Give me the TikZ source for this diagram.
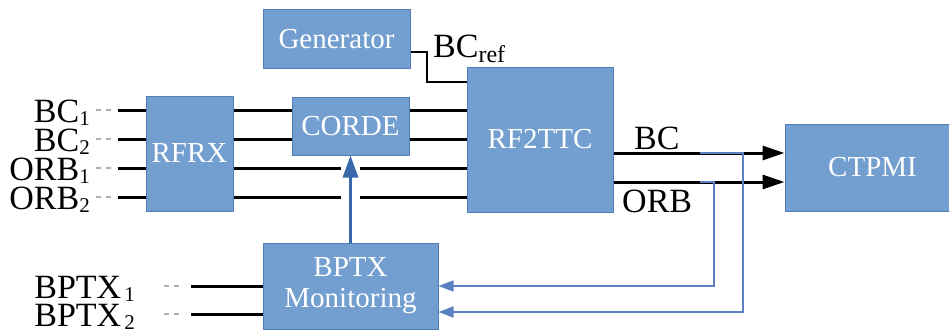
\documentclass[tikz,border=0pt]{standalone}
\usepackage{fontspec}
\setmainfont{Liberation Serif}
\usetikzlibrary{arrows.meta,calc}
\definecolor{boxfill}{RGB}{114,159,207}
\definecolor{boxedge}{RGB}{80,125,185}
\definecolor{arrowblue}{RGB}{55,105,170}
\definecolor{fbblue}{RGB}{90,130,195}
\definecolor{dashgray}{RGB}{175,175,175}
\newcommand\sbs[1]{\raisebox{-3pt}{\fontsize{21}{21}\selectfont #1}}
\begin{document}
\begin{tikzpicture}[x=1pt,y=-1pt,
  blk/.style={draw=boxedge, line width=1pt, fill=boxfill, text=white, inner sep=0pt,
    font=\fontsize{29}{31}\selectfont, align=center},
  sig/.style={line width=3pt, black},
  lbl/.style={font=\fontsize{34}{36}\selectfont, inner sep=0pt},
  gdash/.style={dashgray, line width=2.5pt, dash pattern=on 5pt off 5pt},
  fb/.style={fbblue, line width=1.5pt, -{Triangle[length=15pt,width=11pt]}},
  bigarrow/.style={-{Triangle[length=22pt,width=14pt]}},
]
\useasboundingbox (0,0) rectangle (949,329);

% coordinates of rows
\coordinate (r1) at (0,110);
\coordinate (r2) at (0,139);
\coordinate (o1) at (0,153);
\coordinate (o2) at (0,182);

% boxes
\node[blk, minimum width=87pt, minimum height=115pt] (rfrx) at (189.5,153.5) {RFRX};
\node[blk, minimum width=117pt, minimum height=58pt] (corde) at (350.5,126) {CORDE};
\node[blk, minimum width=147pt, minimum height=58pt] (gen) at (336.5,39) {Generator};
\node[blk, minimum width=146pt, minimum height=145pt] (rf2) at (540,139.5) {RF2TTC};
\node[blk, minimum width=175pt, minimum height=87pt] (ctp) at (872.5,167.5) {CTPMI};
\node[blk, minimum width=175pt, minimum height=86pt] (bptx) at (350.5,286) {BPTX\\Monitoring};

% inputs to RFRX
\foreach \y/\t/\n in {110/BC\sbs{1}/a, 139/BC\sbs{2}/b, 168/ORB\sbs{1}/c, 197/ORB\sbs{2}/d} {
  \node[lbl, anchor=base east] (lab\n) at (90,\y+12) {\t};
  \coordinate (ds\n) at (96,\y);
  \coordinate (de\n) at (113,\y);
  \coordinate (bs\n) at (118,\y);
  \draw[gdash] (ds\n) -- (de\n);
  \draw[sig] (bs\n) -- (rfrx.west |- bs\n);
}

% RFRX -> CORDE -> RF2TTC
\draw[sig] (rfrx.east |- r1) -- (corde.west |- r1);
\draw[sig] (rfrx.east |- r2) -- (corde.west |- r2);
\draw[sig] (corde.east |- r1) -- (rf2.west |- r1);
\draw[sig] (corde.east |- r2) -- (rf2.west |- r2);

% ORB lines with gap
\coordinate (gl3) at (341,168);
\coordinate (gr3) at (360,168);
\coordinate (gl4) at (341,197);
\coordinate (gr4) at (360,197);
\draw[sig] (rfrx.east |- gl3) -- (gl3);
\draw[sig] (gr3) -- (rf2.west |- gr3);
\draw[sig] (rfrx.east |- gl4) -- (gl4);
\draw[sig] (gr4) -- (rf2.west |- gr4);

% BPTX -> CORDE
\draw[line width=3pt, arrowblue, -{Triangle[length=22pt,width=15pt]}] (bptx.north) -- (corde.south);

% Generator -> RF2TTC
\coordinate (g1) at (427,52);
\coordinate (g2) at (427,82);
\draw[line width=2.5pt] (gen.east |- g1) -- (g1) -- (g2) -- (rf2.west |- g2);
\node[lbl, anchor=base west] (bcref) at (433,58) {BC\raisebox{-5pt}{\fontsize{24}{24}\selectfont ref}};

% RF2TTC -> CTPMI
\draw[sig, bigarrow] (rf2.east |- o1) -- (ctp.west |- o1);
\draw[sig, bigarrow] (rf2.east |- o2) -- (ctp.west |- o2);
\node[lbl, anchor=base west] (bclab) at (634,149) {BC};
\node[lbl, anchor=base west] (orblab) at (622,212) {ORB};

% feedback to BPTX Monitoring
\coordinate (f1a) at (700,153);
\coordinate (f1b) at (743,153);
\coordinate (f1c) at (743,312);
\draw[fb] (f1a) -- (f1b) -- (f1c) -- (bptx.east |- f1c);
\coordinate (f2a) at (700,182);
\coordinate (f2b) at (714,182);
\coordinate (f2c) at (714,286);
\draw[fb] (f2a) -- (f2b) -- (f2c) -- (bptx.east |- f2c);

% BPTX inputs
\foreach \y/\t/\n in {286/BPTX\kern3pt\sbs{1}/p, 314/BPTX\kern3pt\sbs{2}/q} {
  \node[lbl, anchor=base east] (lab\n) at (135,\y+12) {\t};
  \coordinate (ds\n) at (164,\y);
  \coordinate (de\n) at (180,\y);
  \coordinate (bs\n) at (191,\y);
  \draw[gdash] (ds\n) -- (de\n);
  \draw[sig] (bs\n) -- (bptx.west |- bs\n);
}
\end{tikzpicture}
\end{document}
